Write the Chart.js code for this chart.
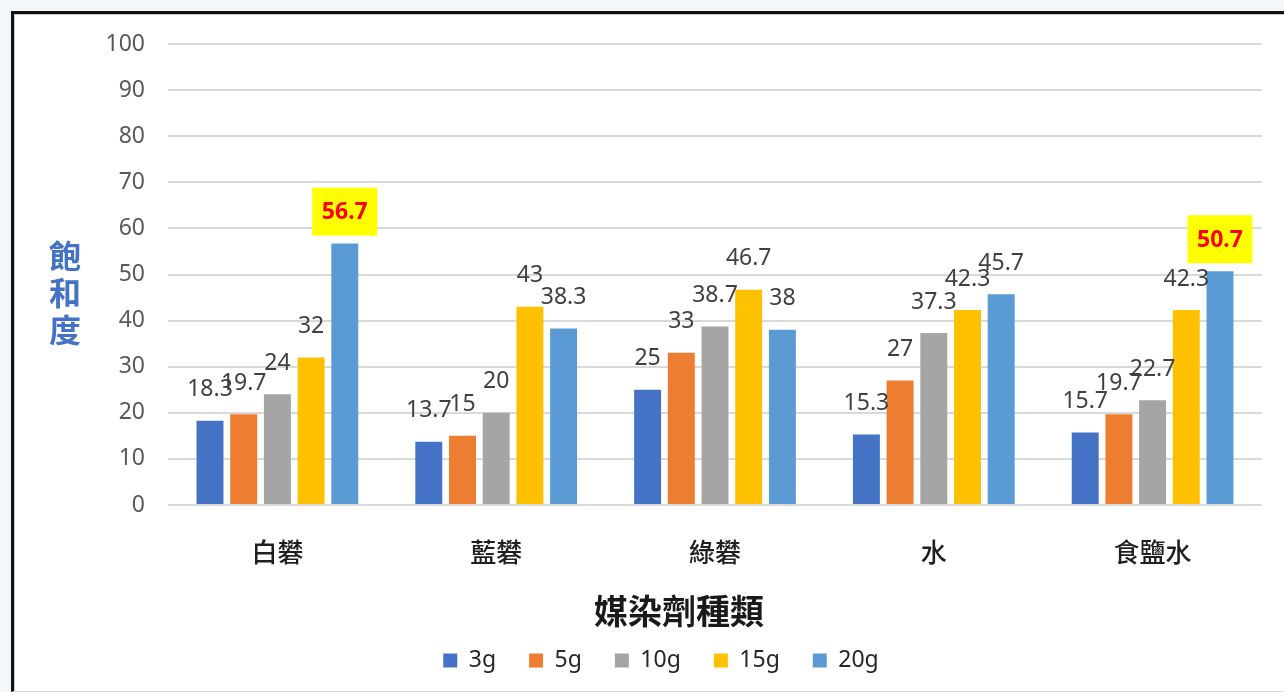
<!DOCTYPE html>
<html>
<head>
<meta charset="utf-8">
<script src="https://cdn.jsdelivr.net/npm/chart.js@4"></script>
<style>
  html, body { margin: 0; padding: 0; width: 1284px; height: 692px; overflow: hidden; background: #F3F6FB; }
  #frame {
    position: absolute; left: 11px; top: 11px;
    width: 1330px; height: 677px;
    background: #ffffff;
    border-left: 3px solid #111111;
    border-top: 3px solid #111111;
    border-bottom: 1px solid #DADADA;
    box-shadow: inset 1px 1px 0 #C8C8C8;
  }
  #chart { display: block; }
</style>
</head>
<body>
<div id="frame"><canvas id="chart" width="1330" height="677"></canvas></div>
<script>
// Mordant types (x axis) and the amount used (series)
const categories = ['白礬', '藍礬', '綠礬', '水', '食鹽水'];
const seriesNames = ['3g', '5g', '10g', '15g', '20g'];

// Saturation per mordant type, one array per amount
const values3g  = [18.3, 13.7, 25, 15.3, 15.7];
const values5g  = [19.7, 15, 33, 27, 19.7];
const values10g = [24, 20, 38.7, 37.3, 22.7];
const values15g = [32, 43, 46.7, 42.3, 42.3];
const values20g = [56.7, 38.3, 38, 45.7, 50.7];

const yTicks = [0, 10, 20, 30, 40, 50, 60, 70, 80, 90, 100];

// Labels that get the emphasised yellow box: [series index, category index]
const highlighted = [[4, 0], [4, 4]];

const seriesValues = [values3g, values5g, values10g, values15g, values20g];
const seriesColors = ['#4472C4', '#ED7D31', '#A5A5A5', '#FFC000', '#5B9BD5'];

const latin = '"Noto Sans", "Noto Sans CJK TC", sans-serif';
const cjk = '"Noto Sans CJK TC", "Noto Sans", sans-serif';

// Value labels above each bar
const valueLabels = {
  id: 'valueLabels',
  afterDatasetsDraw(chart) {
    const ctx = chart.ctx;
    ctx.save();
    ctx.textAlign = 'center';
    ctx.textBaseline = 'middle';
    chart.data.datasets.forEach((ds, di) => {
      const meta = chart.getDatasetMeta(di);
      meta.data.forEach((bar, i) => {
        const v = ds.data[i];
        const x = bar.x;
        const y = bar.y - 32;
        const hot = highlighted.some(h => h[0] === di && h[1] === i);
        if (hot) {
          ctx.fillStyle = '#FFFF00';
          ctx.fillRect(x - 32.5, y - 24, 65, 48);
          ctx.fillStyle = '#FF0000';
          ctx.font = 'bold 23px ' + latin;
        } else {
          ctx.fillStyle = '#404040';
          ctx.font = '23px ' + latin;
        }
        ctx.fillText(String(v), x, y + 1);
      });
    });
    ctx.restore();
  }
};

// Axis titles: stacked vertical y title and the x title
const axisTitles = {
  id: 'axisTitles',
  afterDraw(chart) {
    const ctx = chart.ctx;
    const a = chart.chartArea;
    ctx.save();
    ctx.textAlign = 'center';
    ctx.textBaseline = 'middle';
    ctx.fillStyle = '#4472C4';
    ctx.font = 'bold 32px ' + cjk;
    const yt = '飽和度';
    const mid = (a.top + a.bottom) / 2 + 18;
    for (let k = 0; k < yt.length; k++) {
      ctx.fillText(yt[k], a.left - 103, mid + (k - 1) * 37);
    }
    ctx.fillStyle = '#1A1A1A';
    ctx.font = 'bold 34px ' + cjk;
    ctx.fillText('媒染劑種類', chart.width / 2, a.bottom + 106);
    ctx.restore();
  }
};

new Chart(document.getElementById('chart'), {
  type: 'bar',
  data: {
    labels: categories,
    datasets: seriesNames.map((name, k) => ({
      label: name,
      data: seriesValues[k],
      backgroundColor: seriesColors[k],
      borderWidth: 0,
      categoryPercentage: 0.77,
      barPercentage: 0.8
    }))
  },
  options: {
    responsive: false,
    animation: false,
    events: [],
    layout: { padding: { left: 46, right: 82, top: 30, bottom: 9 } },
    plugins: {
      tooltip: { enabled: false },
      title: { display: false },
      legend: {
        position: 'bottom',
        labels: {
          boxWidth: 14,
          boxHeight: 14,
          padding: 33,
          color: '#262626',
          font: { size: 23, family: latin }
        }
      }
    },
    scales: {
      x: {
        grid: { display: false, drawTicks: false },
        border: { display: false },
        ticks: { color: '#1F1F1F', padding: 32, font: { size: 26, weight: '500', family: cjk } },
        afterFit(scale) { scale.height = 111; }
      },
      y: {
        min: 0,
        max: 100,
        afterBuildTicks(scale) { scale.ticks = yTicks.map(v => ({ value: v })); },
        grid: { color: '#D9D9D9', lineWidth: 2, drawTicks: false },
        border: { display: false },
        ticks: { color: '#595959', padding: 23, font: { size: 23, family: latin } },
        afterFit(scale) {
          scale.width = 108;
          scale.paddingTop = 0;
          scale.paddingBottom = 0;
        }
      }
    }
  },
  plugins: [valueLabels, axisTitles]
});
</script>
</body>
</html>
